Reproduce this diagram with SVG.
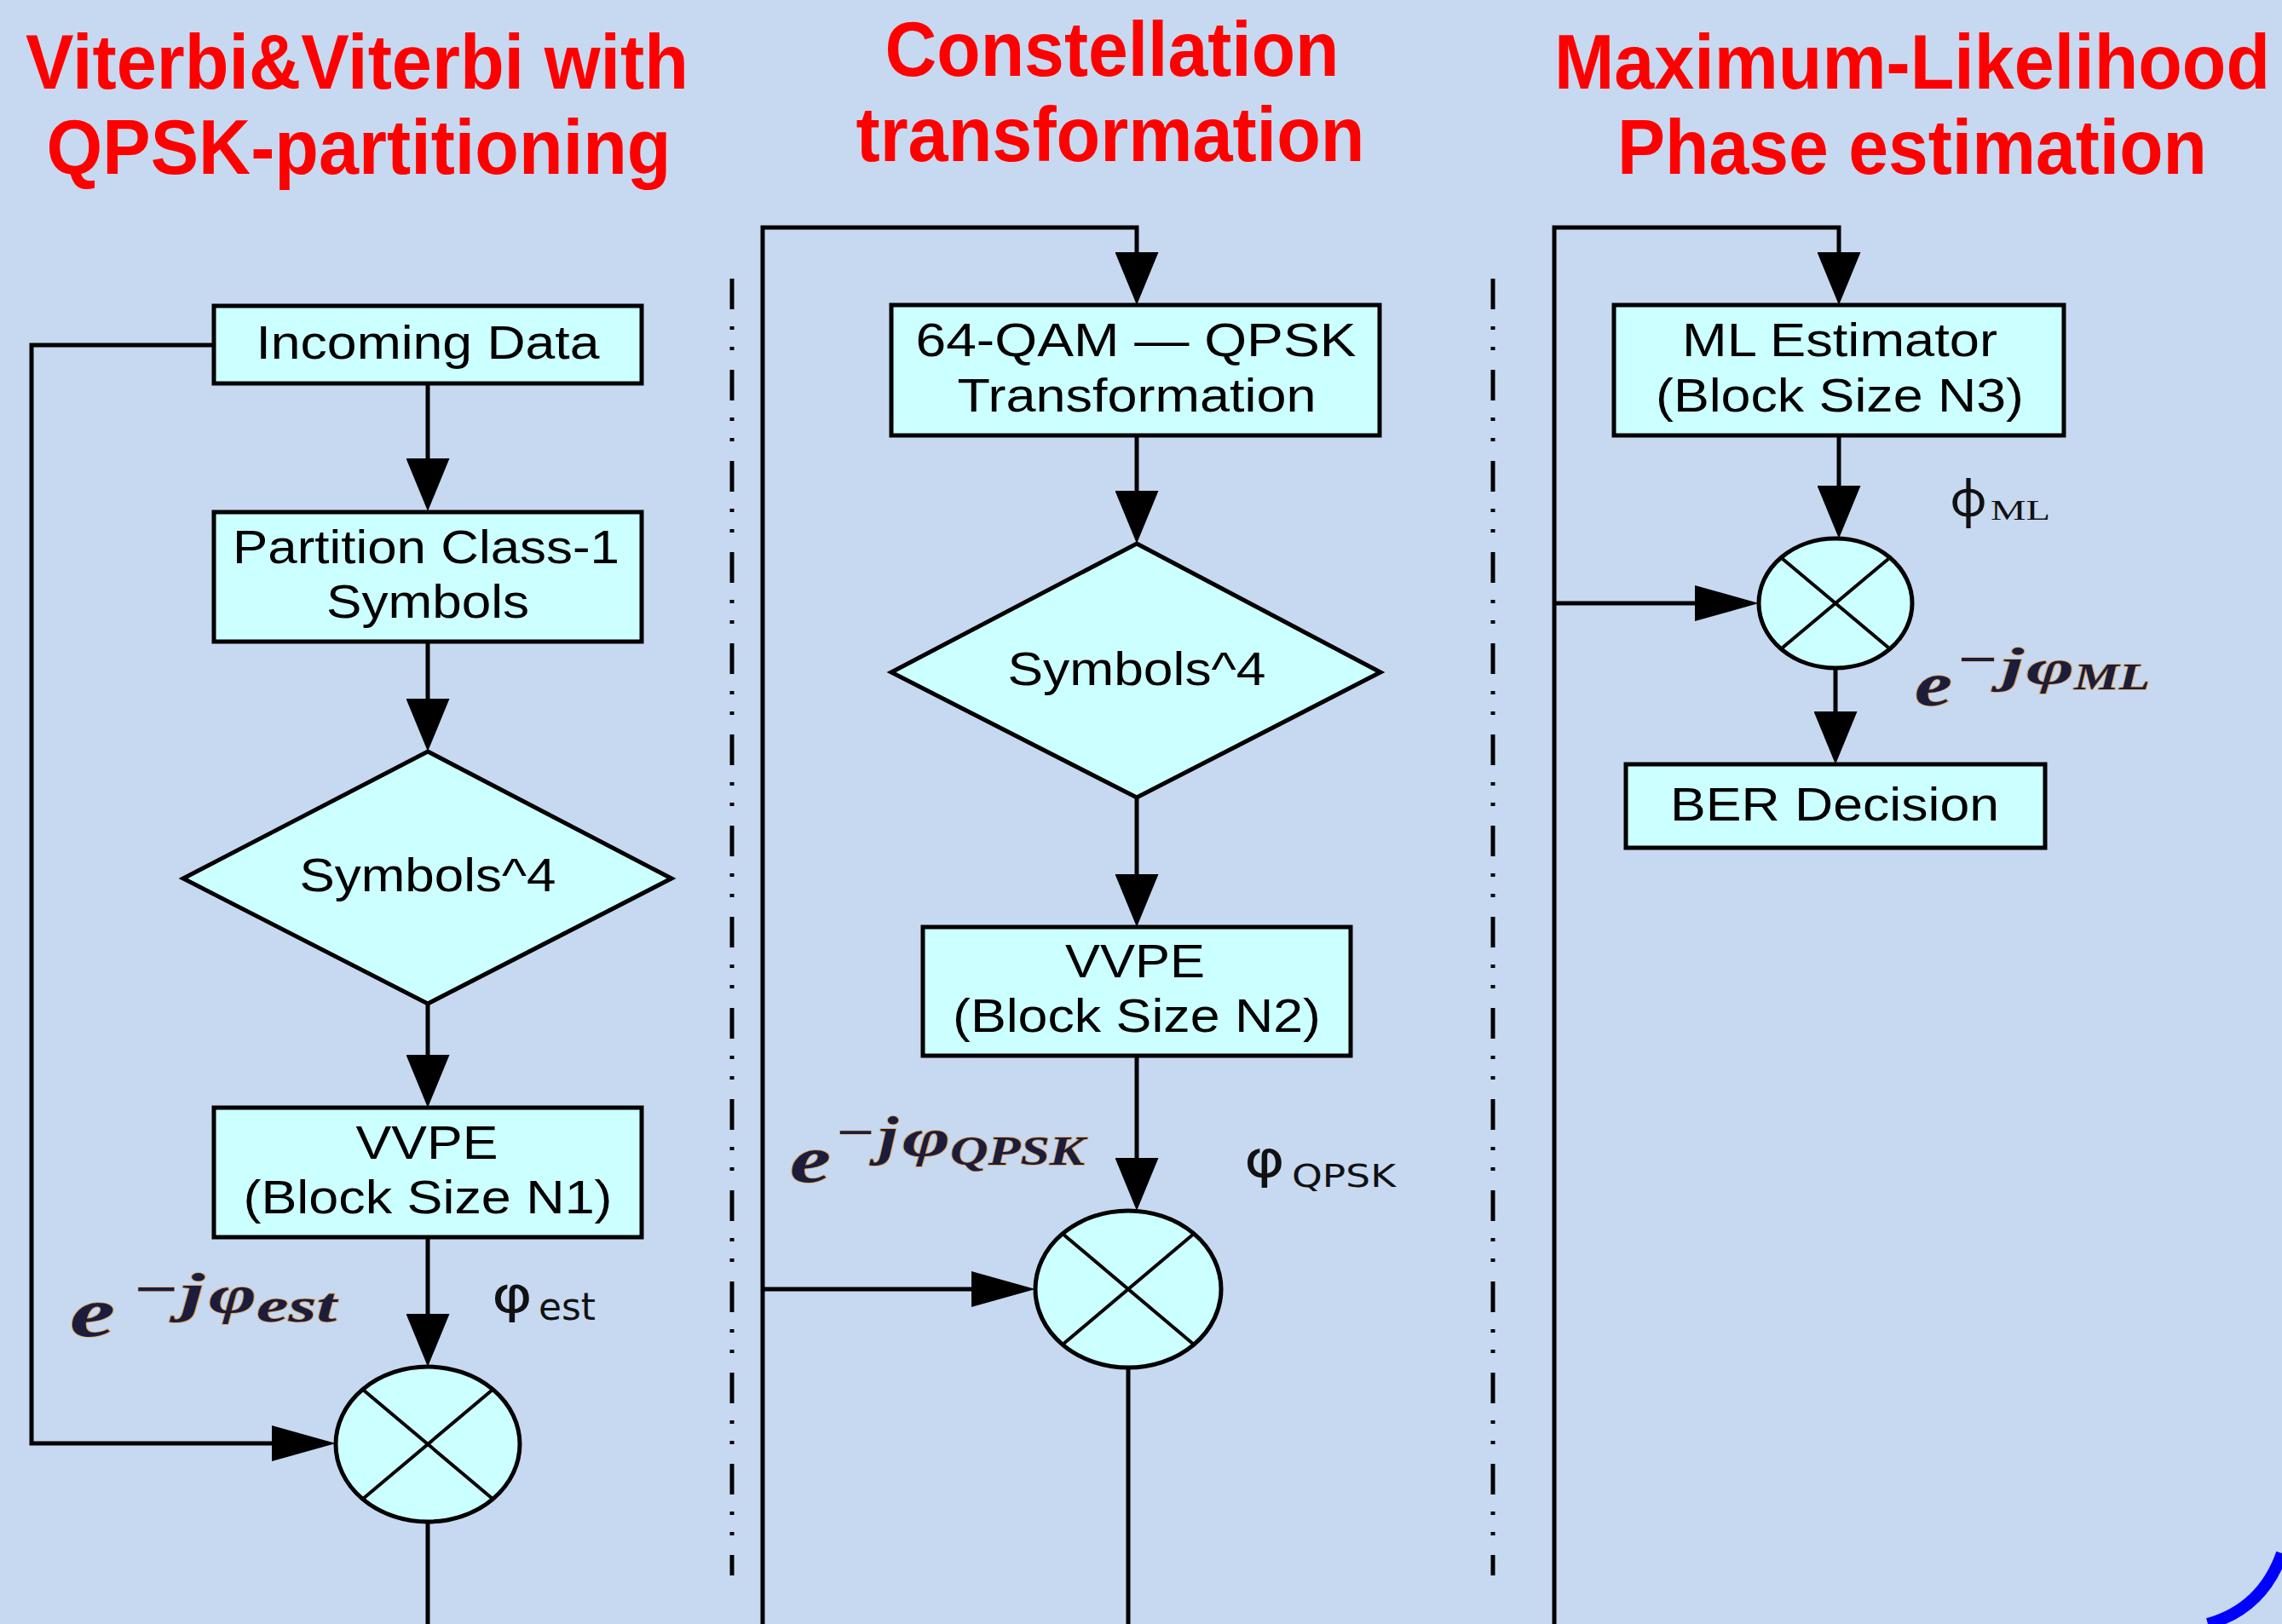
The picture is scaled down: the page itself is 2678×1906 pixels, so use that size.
<svg xmlns="http://www.w3.org/2000/svg" width="2678" height="1906" viewBox="0 0 2678 1906">
<defs>
<style>
.box{fill:#CCFFFF;stroke:#000;stroke-width:5}
.lbl{font-family:"Liberation Sans",Arial,sans-serif;font-size:55px;fill:#000;text-anchor:middle}
.title{font-family:"Liberation Sans",Arial,sans-serif;font-weight:bold;font-size:90px;fill:#FF0000;text-anchor:middle}
.conn{fill:none;stroke:#000;stroke-width:5}
.xl{stroke:#000;stroke-width:4}
.sep{stroke:#000;stroke-width:5;stroke-dasharray:36 20 4 20 4 23}
.math{font-family:"Liberation Serif","DejaVu Serif",serif;font-style:italic;font-weight:bold;fill:#1c1c3c;stroke:#e0a050;stroke-width:1.5;paint-order:stroke}
.mathn{font-family:"Liberation Serif","DejaVu Serif",serif;fill:#1c1c3c;stroke:#e0a050;stroke-width:1;paint-order:stroke}
.phs{font-family:"DejaVu Sans","Noto Sans",sans-serif;fill:#111}
.phn{font-family:"Noto Sans","Open Sans",sans-serif;fill:#111}
.phr{font-family:"Liberation Serif",serif;fill:#111}
</style>
<marker id="aV" markerUnits="userSpaceOnUse" viewBox="0 0 62 51" markerWidth="62" markerHeight="51" refX="0" refY="25.5" orient="auto"><path d="M0,0 L62,25.5 L0,51 z" fill="#000"/></marker>
<marker id="aH" markerUnits="userSpaceOnUse" viewBox="0 0 75 42" markerWidth="75" markerHeight="42" refX="0" refY="21" orient="auto"><path d="M0,0 L75,21 L0,42 z" fill="#000"/></marker>
</defs>
<rect x="0" y="0" width="2678" height="1906" fill="#C6D9F0"/>

<g id="titles">
<text class="title" x="419" y="104" textLength="778" lengthAdjust="spacingAndGlyphs">Viterbi&amp;Viterbi with</text>
<text class="title" x="421" y="204" textLength="733" lengthAdjust="spacingAndGlyphs">QPSK-partitioning</text>
<text class="title" x="1305" y="89" textLength="533" lengthAdjust="spacingAndGlyphs">Constellation</text>
<text class="title" x="1303" y="189" textLength="597" lengthAdjust="spacingAndGlyphs">transformation</text>
<text class="title" x="2244" y="104" textLength="840" lengthAdjust="spacingAndGlyphs">Maximum-Likelihood</text>
<text class="title" x="2244" y="204" textLength="692" lengthAdjust="spacingAndGlyphs">Phase estimation</text>
</g>

<g id="separators">
<line class="sep" x1="859" y1="327" x2="859" y2="1849"/>
<line class="sep" x1="1752" y1="327" x2="1752" y2="1849"/>
</g>

<g id="connectors">
<path class="conn" d="M502,450 V538" marker-end="url(#aV)"/>
<path class="conn" d="M502,753 V820" marker-end="url(#aV)"/>
<path class="conn" d="M502,1178 V1238" marker-end="url(#aV)"/>
<path class="conn" d="M502,1452 V1542" marker-end="url(#aV)"/>
<path class="conn" d="M251,405 H37 V1694 H319" marker-end="url(#aH)"/>
<path class="conn" d="M502,1786 V1906"/>

<path class="conn" d="M895,1906 V267 H1334 V296" marker-end="url(#aV)"/>
<path class="conn" d="M1334,511 V576" marker-end="url(#aV)"/>
<path class="conn" d="M1334,936 V1026" marker-end="url(#aV)"/>
<path class="conn" d="M1334,1239 V1359" marker-end="url(#aV)"/>
<path class="conn" d="M895,1513 H1140" marker-end="url(#aH)"/>
<path class="conn" d="M1324,1605 V1906"/>

<path class="conn" d="M1824,1906 V267 H2158 V296" marker-end="url(#aV)"/>
<path class="conn" d="M2158,511 V570" marker-end="url(#aV)"/>
<path class="conn" d="M1824,708 H1989" marker-end="url(#aH)"/>
<path class="conn" d="M2154,784 V835" marker-end="url(#aV)"/>
</g>

<g id="incoming-data">
<rect class="box" x="251" y="359" width="502" height="91"/>
<text class="lbl" x="502" y="421" textLength="403" lengthAdjust="spacingAndGlyphs">Incoming Data</text>
</g>
<g id="partition">
<rect class="box" x="251" y="601" width="502" height="152"/>
<text class="lbl" x="500" y="661" textLength="454" lengthAdjust="spacingAndGlyphs">Partition Class-1</text>
<text class="lbl" x="502" y="725" textLength="238" lengthAdjust="spacingAndGlyphs">Symbols</text>
</g>
<g id="symbols4-left">
<polygon class="box" points="502,882 788,1031 502,1178 215,1031"/>
<text class="lbl" x="502" y="1046" textLength="301" lengthAdjust="spacingAndGlyphs">Symbols^4</text>
</g>
<g id="vvpe-n1">
<rect class="box" x="251" y="1300" width="502" height="152"/>
<text class="lbl" x="501" y="1360" textLength="167" lengthAdjust="spacingAndGlyphs">VVPE</text>
<text class="lbl" x="502" y="1424" textLength="433" lengthAdjust="spacingAndGlyphs">(Block Size N1)</text>
</g>
<g id="mult-left">
<ellipse class="box" cx="502" cy="1695" rx="108" ry="91"/>
<line class="xl" x1="426" y1="1631" x2="578" y2="1759"/>
<line class="xl" x1="578" y1="1631" x2="426" y2="1759"/>
</g>

<g id="qam-qpsk">
<rect class="box" x="1046" y="358" width="573" height="153"/>
<text class="lbl" x="1333" y="418" textLength="517" lengthAdjust="spacingAndGlyphs">64-QAM — QPSK</text>
<text class="lbl" x="1334" y="483" textLength="421" lengthAdjust="spacingAndGlyphs">Transformation</text>
</g>
<g id="symbols4-mid">
<polygon class="box" points="1334,638 1620,789 1334,936 1046,789"/>
<text class="lbl" x="1334" y="804" textLength="303" lengthAdjust="spacingAndGlyphs">Symbols^4</text>
</g>
<g id="vvpe-n2">
<rect class="box" x="1083" y="1088" width="502" height="151"/>
<text class="lbl" x="1332" y="1147" textLength="164" lengthAdjust="spacingAndGlyphs">VVPE</text>
<text class="lbl" x="1334" y="1211" textLength="432" lengthAdjust="spacingAndGlyphs">(Block Size N2)</text>
</g>
<g id="mult-mid">
<ellipse class="box" cx="1324" cy="1513" rx="109" ry="92"/>
<line class="xl" x1="1247" y1="1448" x2="1401" y2="1578"/>
<line class="xl" x1="1401" y1="1448" x2="1247" y2="1578"/>
</g>

<g id="ml-estimator">
<rect class="box" x="1894" y="358" width="528" height="153"/>
<text class="lbl" x="2159" y="418" textLength="370" lengthAdjust="spacingAndGlyphs">ML Estimator</text>
<text class="lbl" x="2159" y="483" textLength="432" lengthAdjust="spacingAndGlyphs">(Block Size N3)</text>
</g>
<g id="mult-right">
<ellipse class="box" cx="2154" cy="708" rx="90" ry="76"/>
<line class="xl" x1="2092" y1="656" x2="2216" y2="760"/>
<line class="xl" x1="2216" y1="656" x2="2092" y2="760"/>
</g>
<g id="ber-decision">
<rect class="box" x="1908" y="897" width="492" height="98"/>
<text class="lbl" x="2153" y="963" textLength="386" lengthAdjust="spacingAndGlyphs">BER Decision</text>
</g>

<g id="label-est">
<text class="math" x="82" y="1568" font-size="82" textLength="53" lengthAdjust="spacingAndGlyphs">e</text>
<text class="mathn" x="158" y="1543" font-size="90" textLength="51" lengthAdjust="spacingAndGlyphs">−</text>
<text class="math" x="212" y="1538" font-size="64" textLength="28" lengthAdjust="spacingAndGlyphs">j</text>
<text class="math" x="245" y="1540" font-size="64" textLength="56" lengthAdjust="spacingAndGlyphs">φ</text>
<text class="math" x="301" y="1551" font-size="56" textLength="94" lengthAdjust="spacingAndGlyphs">est</text>
</g>
<g id="label-phi-est">
<text class="phs" x="577" y="1540" font-size="58" textLength="48" lengthAdjust="spacingAndGlyphs">φ</text>
<text class="phs" x="632" y="1549" font-size="44" textLength="67" lengthAdjust="spacingAndGlyphs">est</text>
</g>

<g id="label-qpsk">
<text class="math" x="927" y="1387" font-size="78" textLength="48" lengthAdjust="spacingAndGlyphs">e</text>
<text class="mathn" x="982" y="1355" font-size="78" textLength="44" lengthAdjust="spacingAndGlyphs">−</text>
<text class="math" x="1031" y="1354" font-size="64" textLength="23" lengthAdjust="spacingAndGlyphs">j</text>
<text class="math" x="1059" y="1356" font-size="62" textLength="56" lengthAdjust="spacingAndGlyphs">φ</text>
<text class="math" x="1115" y="1367" font-size="48" textLength="158" lengthAdjust="spacingAndGlyphs">QPSK</text>
</g>
<g id="label-phi-qpsk">
<text class="phs" x="1460" y="1381" font-size="60" textLength="48" lengthAdjust="spacingAndGlyphs">φ</text>
<text class="phs" x="1516" y="1393" font-size="38" textLength="122" lengthAdjust="spacingAndGlyphs">QPSK</text>
</g>

<g id="label-ml">
<text class="math" x="2247" y="828" font-size="74" textLength="44" lengthAdjust="spacingAndGlyphs">e</text>
<text class="mathn" x="2298" y="801" font-size="82" textLength="46" lengthAdjust="spacingAndGlyphs">−</text>
<text class="math" x="2349" y="800" font-size="58" textLength="26" lengthAdjust="spacingAndGlyphs">j</text>
<text class="math" x="2378" y="802" font-size="58" textLength="56" lengthAdjust="spacingAndGlyphs">φ</text>
<text class="math" x="2434" y="809" font-size="44" textLength="89" lengthAdjust="spacingAndGlyphs">ML</text>
</g>
<g id="label-phi-ml">
<text class="phn" x="2288" y="606" font-size="58" textLength="44" lengthAdjust="spacingAndGlyphs">φ</text>
<text class="phr" x="2336" y="610" font-size="34" textLength="70" lengthAdjust="spacingAndGlyphs">ML</text>
</g>

<path d="M2591,1906 Q2655,1888 2678,1823" fill="none" stroke="#0000FF" stroke-width="14"/>
</svg>
